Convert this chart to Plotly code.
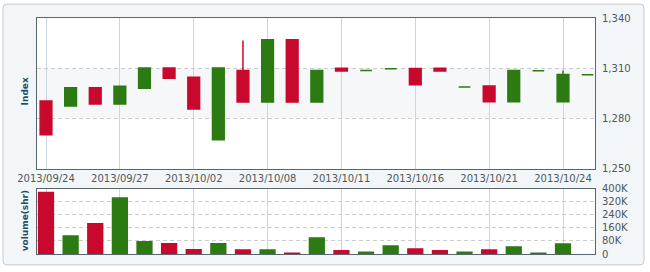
import plotly.graph_objects as go

# ---------------- data ----------------
dates = ["2013/09/24", "2013/09/25", "2013/09/26", "2013/09/27", "2013/09/30",
         "2013/10/01", "2013/10/02", "2013/10/04", "2013/10/07", "2013/10/08",
         "2013/10/09", "2013/10/10", "2013/10/11", "2013/10/14", "2013/10/15",
         "2013/10/16", "2013/10/17", "2013/10/18", "2013/10/21", "2013/10/22",
         "2013/10/23", "2013/10/24", "2013/10/25"]
open_ = [1290.4, 1287.4, 1298.4, 1288.6, 1298.1, 1310.1, 1304.6, 1267.3, 1308.7, 1289.8,
         1327.0, 1289.8, 1310.0, 1308.7, 1309.7, 1309.9, 1310.0, 1298.8, 1299.4, 1290.0,
         1308.5, 1290.0, 1306.1]
high = [1290.4, 1298.4, 1298.4, 1299.2, 1310.1, 1310.1, 1304.6, 1310.1, 1326.6, 1327.0,
        1327.0, 1308.7, 1310.0, 1308.7, 1309.7, 1309.9, 1310.0, 1298.8, 1299.4, 1308.7,
        1308.5, 1308.7, 1306.1]
low = [1270.3, 1287.4, 1288.6, 1288.6, 1298.1, 1304.0, 1285.6, 1267.3, 1289.8, 1289.8,
       1289.8, 1289.8, 1308.3, 1308.7, 1309.7, 1300.2, 1308.3, 1298.8, 1290.0, 1290.0,
       1308.5, 1290.0, 1306.1]
close = [1270.3, 1298.4, 1288.6, 1299.2, 1310.1, 1304.0, 1285.6, 1310.1, 1289.8, 1327.0,
         1289.8, 1308.7, 1308.3, 1308.7, 1309.7, 1300.2, 1308.3, 1298.8, 1290.0, 1308.7,
         1308.5, 1306.3, 1306.1]
volume = [380000, 114000, 190000, 347000, 80000, 67000, 31000, 67000, 29000, 29000,
          6000, 102000, 24000, 16000, 53000, 35000, 24000, 16000, 29000, 47000,
          6000, 65000, 0]

date_ticks = ["2013/09/24", "2013/09/27", "2013/10/02", "2013/10/08",
              "2013/10/11", "2013/10/16", "2013/10/21", "2013/10/24"]
price_ticks = [1250, 1280, 1310, 1340]
price_tick_text = ["1,250", "1,280", "1,310", "1,340"]
vol_ticks = [0, 80000, 160000, 240000, 320000, 400000]
vol_tick_text = ["0", "80K", "160K", "240K", "320K", "400K"]

# ---------------- style ----------------
RED = "#c8082c"
GREEN = "#2b7a12"
TXT = "#4e585e"
TITLE = "#1d4f6b"
FONT = "DejaVu Sans"

up = [c >= o for o, c in zip(open_, close)]


def pick(arr, flag):
    return [v if f == flag else None for v, f in zip(arr, up)]


fig = go.Figure()
for flag, col, name in [(True, GREEN, "Up"), (False, RED, "Down")]:
    fig.add_trace(go.Candlestick(
        x=dates, open=pick(open_, flag), high=pick(high, flag),
        low=pick(low, flag), close=pick(close, flag),
        increasing=dict(line=dict(color=col, width=1.5), fillcolor=col),
        decreasing=dict(line=dict(color=col, width=1.5), fillcolor=col),
        whiskerwidth=0, name=name, showlegend=False,
        xaxis="x", yaxis="y"))

fig.add_trace(go.Bar(
    x=dates, y=volume, marker=dict(color=[GREEN if u else RED for u in up], line_width=0),
    width=0.66, showlegend=False, xaxis="x2", yaxis="y2"))

L, R, T, B = 37, 55, 17, 17
W, H = 650, 272
pw, ph = W - L - R, H - T - B


def px_x(px):
    return (px - L) / pw


def px_y(py):
    return (H - B - py) / ph


top_dom = [px_y(169), 1.0]
bot_dom = [0.0, px_y(189)]

# rounded outer box path in paper coords
x0, x1, y0, y1, r = 3, 644, 3, 266, 4
path = (f"M {px_x(x0 + r)},{px_y(y0)} L {px_x(x1 - r)},{px_y(y0)} "
        f"Q {px_x(x1)},{px_y(y0)} {px_x(x1)},{px_y(y0 + r)} "
        f"L {px_x(x1)},{px_y(y1 - r)} Q {px_x(x1)},{px_y(y1)} {px_x(x1 - r)},{px_y(y1)} "
        f"L {px_x(x0 + r)},{px_y(y1)} Q {px_x(x0)},{px_y(y1)} {px_x(x0)},{px_y(y1 - r)} "
        f"L {px_x(x0)},{px_y(y0 + r)} Q {px_x(x0)},{px_y(y0)} {px_x(x0 + r)},{px_y(y0)} Z")

shapes = [
    dict(type="path", path=path, xref="paper", yref="paper", layer="below",
         fillcolor="#f2f6f8", line=dict(color="#c3cacf", width=1)),
    dict(type="rect", xref="paper", yref="paper", x0=0, x1=1, y0=top_dom[0], y1=top_dom[1],
         layer="below", fillcolor="white", line_width=0),
    dict(type="rect", xref="paper", yref="paper", x0=0, x1=1, y0=bot_dom[0], y1=bot_dom[1],
         layer="below", fillcolor="white", line_width=0),
    dict(type="rect", xref="paper", yref="y", x0=0, x1=1, y0=1280, y1=1310,
         layer="below", fillcolor="#f6f7f8", line_width=0),
]

xr = [-0.366, 22.30]
axis_common = dict(showline=True, mirror=True, linecolor="#59646b", linewidth=1,
                   zeroline=False, ticks="")

fig.update_layout(
    width=W, height=H,
    margin=dict(l=L, r=R, t=T, b=B),
    paper_bgcolor="white", plot_bgcolor="rgba(0,0,0,0)",
    font=dict(family=FONT, size=10, color=TXT),
    boxgap=0.32,
    shapes=shapes,
    xaxis=dict(type="category", domain=[0, 1], anchor="y", range=xr,
               tickvals=date_ticks, ticktext=date_ticks,
               showgrid=True, gridcolor="#c9d6dd", gridwidth=1,
               rangeslider=dict(visible=False),
               tickfont=dict(family=FONT, size=10, color=TXT), **axis_common),
    yaxis=dict(domain=top_dom, anchor="x", side="right", range=[1250, 1340],
               tickvals=price_ticks, ticktext=price_tick_text,
               showgrid=True, gridcolor="#cccccc", griddash="4px,3px",
               ticklabelstandoff=4,
               tickfont=dict(family=FONT, size=10, color=TXT), **axis_common),
    xaxis2=dict(type="category", domain=[0, 1], anchor="y2", range=xr, matches="x",
                tickvals=date_ticks, showticklabels=False,
                showgrid=True, gridcolor="#c9d6dd", gridwidth=1, **axis_common),
    yaxis2=dict(domain=bot_dom, anchor="x2", side="right", range=[0, 400000],
                tickvals=vol_ticks, ticktext=vol_tick_text,
                showgrid=True, gridcolor="#cccccc", griddash="4px,3px",
                ticklabelstandoff=4,
                tickfont=dict(family=FONT, size=10, color=TXT), **axis_common),
    annotations=[
        dict(text="<b>Index</b>", xref="paper", yref="paper",
             x=px_x(25), y=px_y(91), xanchor="center", yanchor="middle",
             textangle=-90, showarrow=False,
             font=dict(family=FONT, size=9, color=TITLE)),
        dict(text="<b>volume(shr)</b>", xref="paper", yref="paper",
             x=px_x(25), y=px_y(222), xanchor="center", yanchor="middle",
             textangle=-90, showarrow=False,
             font=dict(family=FONT, size=9, color=TITLE)),
    ],
    bargap=0.34,
)

fig.write_html("out.html")
